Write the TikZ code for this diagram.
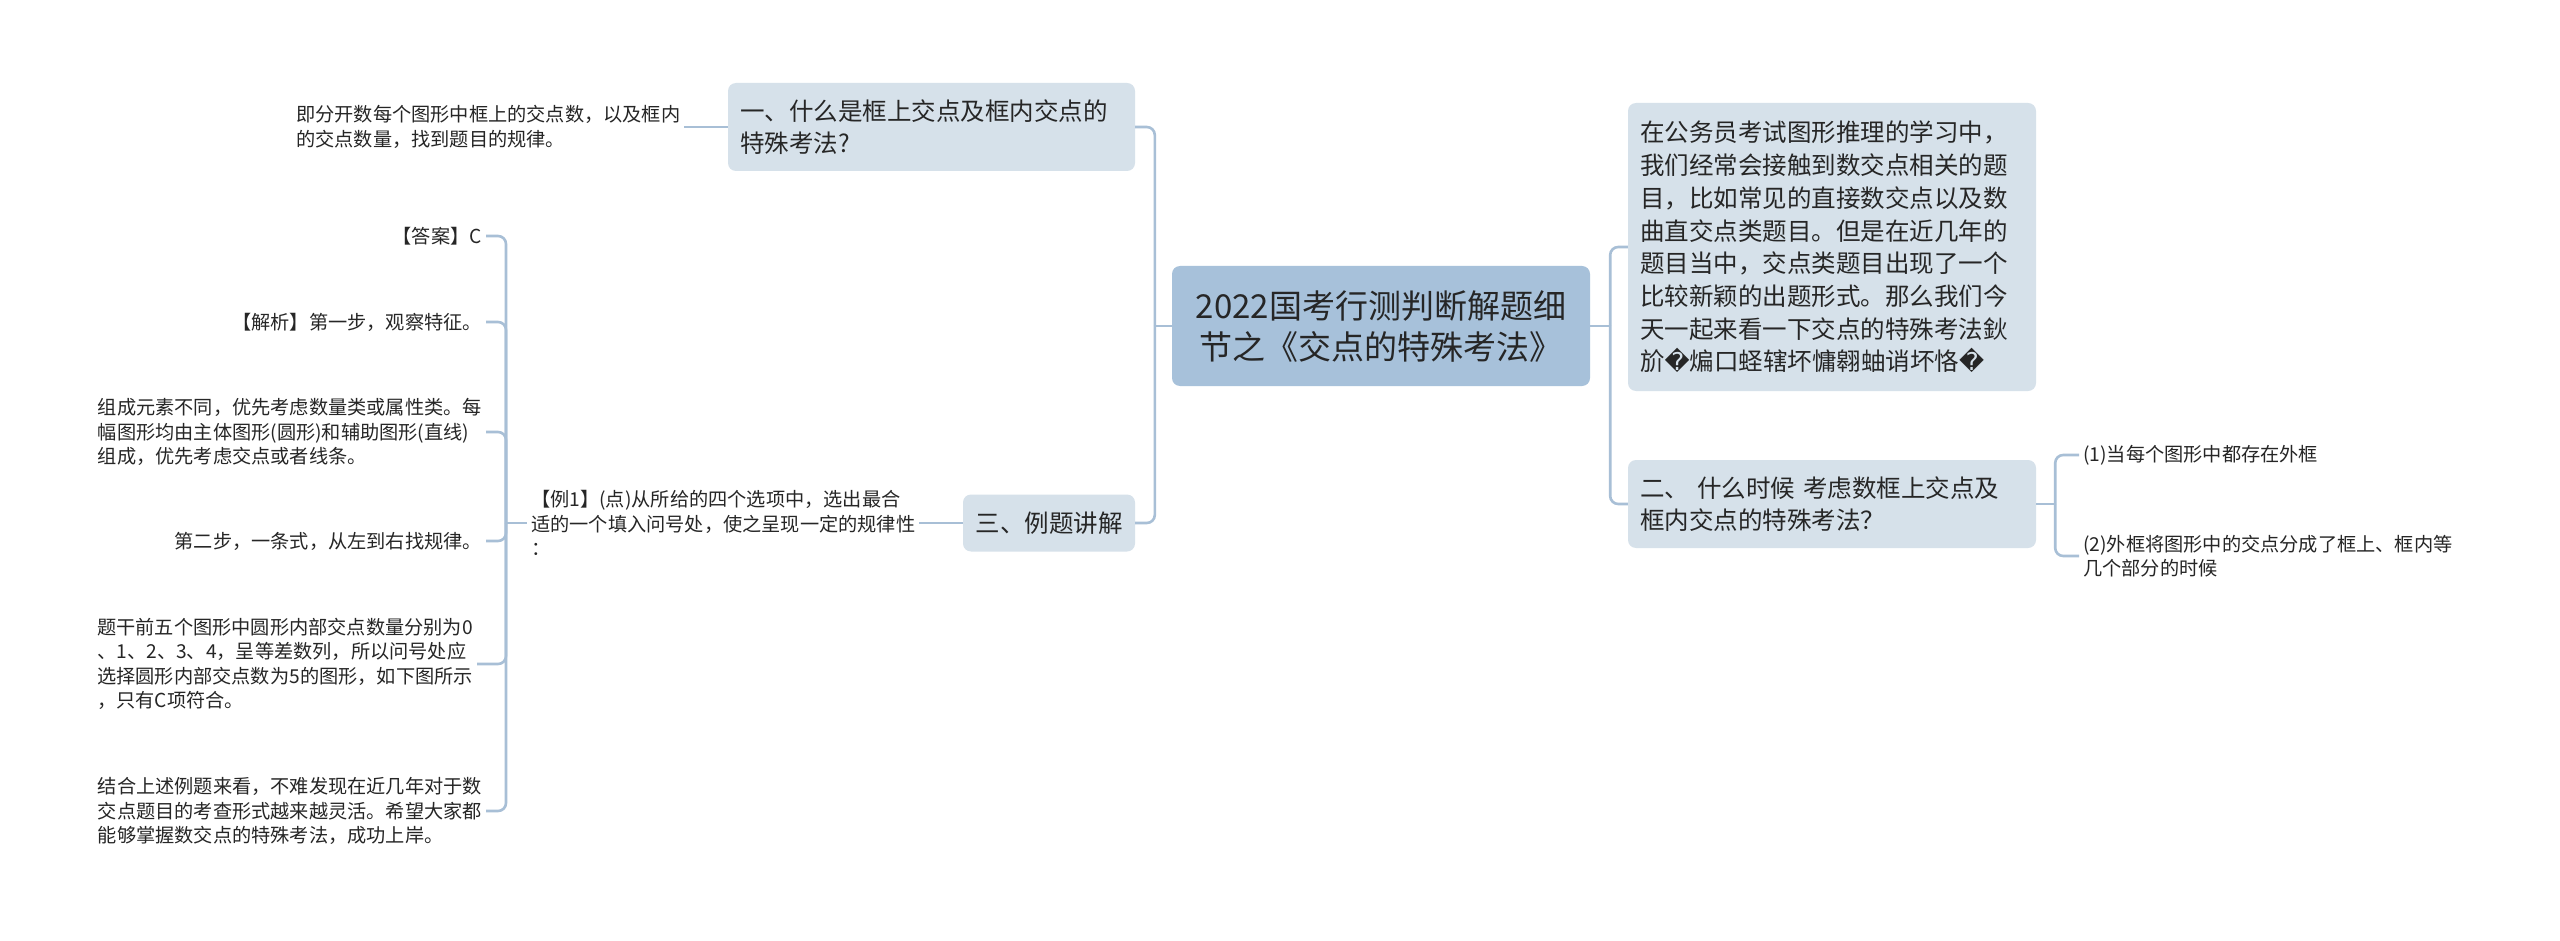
\documentclass[tikz,border=0pt]{standalone}
\usepackage{fontspec}
\setmainfont{Noto Sans CJK SC}
\newfontfamily\symfont{DejaVu Sans}
\definecolor{rootfill}{HTML}{A7C1DA}
\definecolor{topicfill}{HTML}{D6E1EA}
\definecolor{linkblue}{HTML}{A8BFD6}
\definecolor{inkgrey}{HTML}{262626}
\newcommand{\badchar}{{\symfont �}}
\begin{document}
\begin{tikzpicture}[x=1pt,y=-1pt,
  rootbox/.style={fill=rootfill,rounded corners=8pt,minimum width=418pt,minimum height=120pt,align=center,inner sep=0pt,text=inkgrey,font=\fontsize{33}{41}\selectfont},
  topicbox/.style={fill=topicfill,rounded corners=8pt,inner xsep=12pt,inner ysep=0pt,text=inkgrey,font=\fontsize{24.5}{32.7}\selectfont},
  leaf/.style={inner sep=4pt,align=left,text=inkgrey,font=\fontsize{19.2}{24.5}\selectfont},
  link/.style={draw=linkblue,line width=2.6pt,rounded corners=8pt}]
\fill[white] (0,0) rectangle (2560,941);
\useasboundingbox (0,0) rectangle (2560,941);
\node[rootbox] (root) at (1381,326) {2022国考行测判断解题细\\节之《交点的特殊考法》};
\node[topicbox,text width=383pt,minimum height=88pt,align=left] (q1) at (931.5,127) {一、什么是框上交点及框内交点的\\特殊考法?};
\node[topicbox,minimum width=172pt,minimum height=57pt,align=center] (q3) at (1049,523) {三、例题讲解};
\node[topicbox,text width=384pt,minimum height=288pt,align=left] (intro) at (1832,247) {在公务员考试图形推理的学习中，\\我们经常会接触到数交点相关的题\\目，比如常见的直接数交点以及数\\曲直交点类题目。但是在近几年的\\题目当中，交点类题目出现了一个\\比较新颖的出题形式。那么我们今\\天一起来看一下交点的特殊考法鈥\\斺\badchar 煸口蛏辖坏慵翱蚰诮坏恪\badchar};
\node[topicbox,text width=384pt,minimum height=88pt,align=left] (q2) at (1832,504) {二、 什么时候 考虑数框上交点及\\框内交点的特殊考法？};
\node[leaf,anchor=west] (q1note) at (292,127) {即分开数每个图形中框上的交点数，以及框内\\的交点数量，找到题目的规律。};
\node[leaf,anchor=west] (ex) at (527,523) {【例1】(点)从所给的四个选项中，选出最合\\适的一个填入问号处，使之呈现一定的规律性\\：};
\node[leaf,anchor=east] (ans) at (486,236) {【答案】C};
\node[leaf,anchor=east] (ana) at (486,322) {【解析】第一步，观察特征。};
\node[leaf,anchor=east] (comp) at (486,432) {组成元素不同，优先考虑数量类或属性类。每\\幅图形均由主体图形(圆形)和辅助图形(直线)\\组成，优先考虑交点或者线条。};
\node[leaf,anchor=east] (step) at (486,541) {第二步，一条式，从左到右找规律。};
\node[leaf,anchor=east] (stem) at (477,664) {题干前五个图形中圆形内部交点数量分别为0\\、1、2、3、4，呈等差数列，所以问号处应\\选择圆形内部交点数为5的图形，如下图所示\\，只有C项符合。};
\node[leaf,anchor=east] (sum) at (486,811) {结合上述例题来看，不难发现在近几年对于数\\交点题目的考查形式越来越灵活。希望大家都\\能够掌握数交点的特殊考法，成功上岸。};
\node[leaf,anchor=west] (c1) at (2079,455) {(1)当每个图形中都存在外框};
\node[leaf,anchor=west] (c2) at (2079,556) {(2)外框将图形中的交点分成了框上、框内等\\几个部分的时候};
\coordinate (lfork) at ([xshift=-17pt]root.west);
\coordinate (rfork) at ([xshift=20pt]root.east);
\coordinate (exfork) at ([xshift=-21pt]ex.west);
\coordinate (q2fork) at ([xshift=19pt]q2.east);
\draw[link] (lfork) -- (root.west);
\draw[link] (q1.east) -| (lfork);
\draw[link] (q3.east) -| (lfork);
\draw[link] (rfork) -- (root.east);
\draw[link] (intro.west) -| (rfork);
\draw[link] (q2.west) -| (rfork);
\draw[link] (q1.west) -- (q1note.east);
\draw[link] (q3.west) -- (ex.east);
\draw[link] (exfork) -- (ex.west);
\foreach \leaf in {ans,ana,comp,step,stem,sum}
  \draw[link] (\leaf.east) -| (exfork);
\draw[link] (q2fork) -- (q2.east);
\foreach \leaf in {c1,c2}
  \draw[link] (\leaf.west) -| (q2fork);
\end{tikzpicture}
\end{document}
